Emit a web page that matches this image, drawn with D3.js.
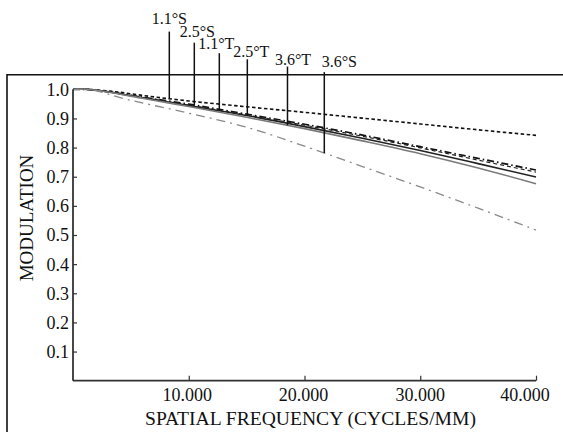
<!DOCTYPE html>
<html>
<head>
<meta charset="utf-8">
<script src="https://cdn.jsdelivr.net/npm/d3@7"></script>
<style>
  html, body { margin: 0; padding: 0; background: #fff; }
  svg { display: block; }
  text { font-family: "Liberation Serif", "Times New Roman", serif; fill: #111; }
</style>
</head>
<body>
<svg id="chart" width="563" height="432"></svg>
<script>
// ---- data ----
const freqs = [0, 1, 2, 4, 6, 8, 10, 15, 20, 25, 30, 35, 40];
const mtf_11S = [1.0, 1.0, 0.998, 0.99, 0.979, 0.969, 0.960, 0.940, 0.921, 0.901, 0.881, 0.861, 0.842];
const mtf_25S = [1.0, 1.0, 0.997, 0.986, 0.973, 0.961, 0.949, 0.915, 0.880, 0.843, 0.803, 0.763, 0.723];
const mtf_11T = [1.0, 1.0, 0.997, 0.985, 0.972, 0.959, 0.946, 0.912, 0.877, 0.839, 0.799, 0.757, 0.716];
const mtf_25T = [1.0, 1.0, 0.997, 0.985, 0.971, 0.958, 0.944, 0.910, 0.872, 0.832, 0.790, 0.745, 0.699];
const mtf_36T = [1.0, 1.0, 0.997, 0.984, 0.969, 0.955, 0.941, 0.904, 0.865, 0.823, 0.779, 0.730, 0.676];
const mtf_36S = [1.0, 1.0, 0.995, 0.972, 0.953, 0.936, 0.918, 0.870, 0.805, 0.735, 0.665, 0.592, 0.517];

const seriesNames = ["1.1°S", "2.5°S", "1.1°T", "2.5°T", "3.6°T", "3.6°S"];
const seriesValues = [mtf_11S, mtf_25S, mtf_11T, mtf_25T, mtf_36T, mtf_36S];
// frequency where each label's leader line touches its curve, and leader top (in modulation units)
const leaderFreq = [8.32, 10.48, 12.64, 15.06, 18.53, 21.71];
const leaderTop  = [1.198, 1.160, 1.124, 1.103, 1.078, 1.059];

const yTicks = [0.1, 0.2, 0.3, 0.4, 0.5, 0.6, 0.7, 0.8, 0.9, 1.0];
const xTicks = [10, 20, 30, 40];
const xTickLabels = ["10.000", "20.000", "30.000", "40.000"];

// ---- styles / layout ----
const styles = [
  { color: "#111", width: 1.6, dash: "3.5,2.5" },
  { color: "#111", width: 1.7, dash: "7,3,1.5,3" },
  { color: "#222", width: 1.2, dash: "4,3" },
  { color: "#222", width: 1.6, dash: null },
  { color: "#7a7a7a", width: 1.6, dash: null },
  { color: "#8a8a8a", width: 1.3, dash: "9,5,2,5" }
];
const labelDx = [0, 3, -3, 4, 5.5, 15];
const labelDy = [-7.4, -6, -4.6, -2.6, -1.7, -5.3];
const xTickLabelDx = [-1.5, -1, 0, -11];

const svg = d3.select("#chart");
const x = d3.scaleLinear().domain([0, 40]).range([73, 536]);
const y = d3.scaleLinear().domain([0, 1]).range([380.7, 89.3]);

// outer frame
svg.append("path")
  .attr("d", `M7,432 L7,74.7 L563,74.7`)
  .attr("fill", "none").attr("stroke", "#111").attr("stroke-width", 1.6);

// curves
const line = d3.line().x(d => x(d[0])).y(d => y(d[1])).curve(d3.curveMonotoneX);
seriesValues.forEach((vals, i) => {
  const pts = freqs.map((f, j) => [f, vals[j]]);
  const p = svg.append("path")
    .attr("d", line(pts))
    .attr("fill", "none")
    .attr("stroke", styles[i].color)
    .attr("stroke-width", styles[i].width);
  if (styles[i].dash) p.attr("stroke-dasharray", styles[i].dash);
});

// axes
const axisColor = "#333";
const yAxis = svg.append("g").attr("transform", `translate(${x(0)},0)`)
  .call(d3.axisRight(y).tickValues(yTicks.filter(v => v < 1)).tickSize(4).tickFormat(""));
yAxis.select(".domain").attr("d", `M0,${y(1)}V${y(0)}`).attr("stroke", axisColor).attr("stroke-width", 1.8);
yAxis.selectAll(".tick line").attr("stroke", axisColor).attr("stroke-width", 1.2);

svg.append("g").selectAll("text").data(yTicks).join("text")
  .attr("x", 69).attr("y", d => y(d)).attr("dy", "0.36em")
  .attr("text-anchor", "end").style("font-size", "18px")
  .text(d => d.toFixed(1));

const xAxis = svg.append("g").attr("transform", `translate(0,${y(0)})`)
  .call(d3.axisTop(x).tickValues(xTicks).tickSize(5).tickFormat(""));
xAxis.select(".domain").attr("d", `M${x(0)},0H${x(40)}`).attr("stroke", axisColor).attr("stroke-width", 1.8);
xAxis.selectAll(".tick line").attr("stroke", axisColor).attr("stroke-width", 1.2);

svg.append("g").selectAll("text").data(xTicks).join("text")
  .attr("x", (d, i) => x(d) + xTickLabelDx[i]).attr("y", 401)
  .attr("text-anchor", "middle").style("font-size", "18px")
  .text((d, i) => xTickLabels[i]);

// axis titles
svg.append("text").attr("x", 310.5).attr("y", 425.3)
  .attr("text-anchor", "middle").style("font-size", "19.6px")
  .text("SPATIAL FREQUENCY (CYCLES/MM)");
svg.append("text")
  .attr("transform", `translate(33,218) rotate(-90)`)
  .attr("text-anchor", "middle").style("font-size", "19px")
  .text("MODULATION");

// leader lines + labels
function interp(vals, f) {
  for (let j = 1; j < freqs.length; j++) {
    if (f <= freqs[j]) {
      const t = (f - freqs[j - 1]) / (freqs[j] - freqs[j - 1]);
      return vals[j - 1] + t * (vals[j] - vals[j - 1]);
    }
  }
  return vals[vals.length - 1];
}
seriesNames.forEach((name, i) => {
  const fx = x(leaderFreq[i]);
  svg.append("line")
    .attr("x1", fx).attr("x2", fx)
    .attr("y1", y(leaderTop[i])).attr("y2", y(interp(seriesValues[i], leaderFreq[i])))
    .attr("stroke", "#111").attr("stroke-width", 1.5);
  svg.append("text")
    .attr("x", fx + labelDx[i]).attr("y", y(leaderTop[i]) + labelDy[i])
    .attr("text-anchor", "middle").style("font-size", "16px")
    .text(name);
});
</script>
</body>
</html>
